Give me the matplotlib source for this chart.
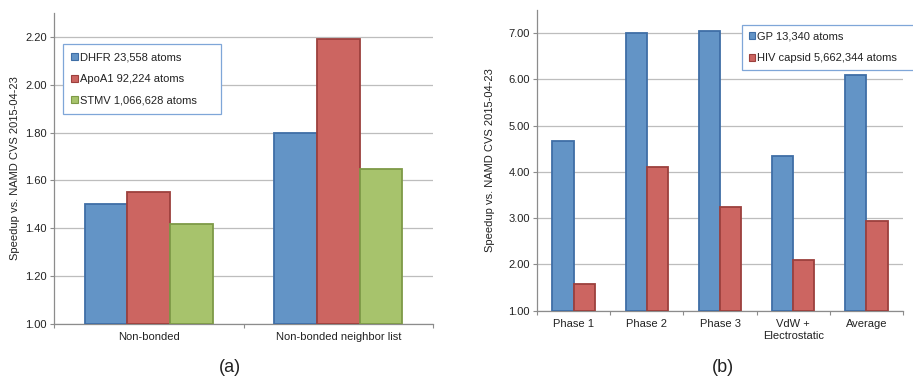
import matplotlib
matplotlib.use("Agg")
import matplotlib.pyplot as plt
import numpy as np
from matplotlib.patches import Patch

plt.rcParams['font.family'] = ['Liberation Sans', 'DejaVu Sans']

# ---- data (a)
cats_a = ["Non-bonded", "Non-bonded neighbor list"]
series_a = ["DHFR 23,558 atoms", "ApoA1 92,224 atoms", "STMV 1,066,628 atoms"]
dhfr = [1.50, 1.80]
apoa1 = [1.55, 2.19]
stmv = [1.42, 1.65]
yticks_a = [1.00, 1.20, 1.40, 1.60, 1.80, 2.00, 2.20]

# ---- data (b)
cats_b = ["Phase 1", "Phase 2", "Phase 3", "VdW +\nElectrostatic", "Average"]
series_b = ["GP 13,340 atoms", "HIV capsid 5,662,344 atoms"]
gp = [4.66, 7.00, 7.05, 4.35, 6.10]
hiv = [1.58, 4.10, 3.25, 2.10, 2.94]
yticks_b = [1.00, 2.00, 3.00, 4.00, 5.00, 6.00, 7.00]

ylabel = "Speedup vs. NAMD CVS 2015-04-23"

fills = ["#6394C6", "#CC6561", "#A7C36C"]
edges = ["#3F6EA6", "#9C403D", "#7E9A47"]
grid_c = "#BDBDBD"
axis_c = "#8C8C8C"
fs = 8

W, H = 913, 379
fig = plt.figure(figsize=(W / 100, H / 100), dpi=100)


def px_axes(x0, y0, x1, y1):
    return fig.add_axes([x0 / W, 1 - y1 / H, (x1 - x0) / W, (y1 - y0) / H])


def style(ax, ncat, ylim, yticks):
    ax.set_xlim(-0.5, ncat - 0.5)
    ax.set_ylim(*ylim)
    ax.set_yticks(yticks)
    ax.set_yticklabels([f"{v:.2f}" for v in yticks], fontsize=fs, color="#222222")
    ax.yaxis.grid(True, color=grid_c, lw=0.9)
    ax.set_axisbelow(True)
    for s in ["top", "right"]:
        ax.spines[s].set_visible(False)
    for s in ["left", "bottom"]:
        ax.spines[s].set_color(axis_c)
        ax.spines[s].set_linewidth(0.9)
    ax.set_xticks(np.arange(-0.5, ncat, 1.0))
    ax.set_xticklabels([])
    ax.tick_params(axis="x", which="major", length=3, color=axis_c, direction="out")
    ax.tick_params(axis="y", length=3, color=axis_c, direction="out", pad=2)
    ax.set_xticks(np.arange(ncat), minor=True)
    ax.tick_params(axis="x", which="minor", length=0, pad=6)


def legend(ax, handles, labels, x0, y0, w, h, pad):
    leg = ax.legend(handles, labels, loc="upper left", mode="expand",
                    bbox_to_anchor=(x0 / W, 1 - (y0 + h) / H, w / W, h / H),
                    bbox_transform=fig.transFigure,
                    fontsize=fs, frameon=True, fancybox=False, borderaxespad=0,
                    handlelength=0.6, handleheight=0.6, handletextpad=0.15,
                    labelspacing=1.05, borderpad=pad, framealpha=1)
    leg.get_frame().set_edgecolor("#7FA6D8")
    leg.get_frame().set_linewidth(0.9)
    for t in leg.get_texts():
        t.set_color("#222222")
    return leg


# ---- panel (a)
ax1 = px_axes(54, 13, 433, 324)
x = np.arange(len(cats_a))
bw = 0.225
for i, vals in enumerate([dhfr, apoa1, stmv]):
    ax1.bar(x + (i - 1) * bw, np.array(vals) - 1.0, bw, bottom=1.0,
            color=fills[i], edgecolor=edges[i], linewidth=1.3, zorder=3)
style(ax1, len(cats_a), (1.0, 2.3), yticks_a)
ax1.set_xticklabels(cats_a, minor=True, fontsize=fs, color="#222222")
ax1.set_ylabel(ylabel, fontsize=fs, color="#222222", labelpad=4)
handles = [Patch(facecolor=fills[i], edgecolor=edges[i], lw=0.8) for i in range(3)]
legend(ax1, handles, series_a, 63, 44, 158, 68, 0.75)

# ---- panel (b)
ax2 = px_axes(537, 10, 903, 310.7)
x = np.arange(len(cats_b))
bw = 0.29
for i, vals in enumerate([gp, hiv]):
    ax2.bar(x + (i - 0.5) * bw, np.array(vals) - 1.0, bw, bottom=1.0,
            color=fills[i], edgecolor=edges[i], linewidth=1.3, zorder=3)
style(ax2, len(cats_b), (1.0, 7.5), yticks_b)
ax2.set_xticklabels(cats_b, minor=True, fontsize=fs, color="#222222", linespacing=1.25)
ax2.set_ylabel(ylabel, fontsize=fs, color="#222222", labelpad=10)
handles = [Patch(facecolor=fills[i], edgecolor=edges[i], lw=0.8) for i in range(2)]
legend(ax2, handles, series_b, 742, 25, 200, 44, 0.6)

fig.text(230 / W, 1 - 368 / H, "(a)", fontsize=13, ha="center", va="center", color="#222222")
fig.text(723 / W, 1 - 368 / H, "(b)", fontsize=13, ha="center", va="center", color="#222222")

fig.savefig("out.png", dpi=100, facecolor="white")
